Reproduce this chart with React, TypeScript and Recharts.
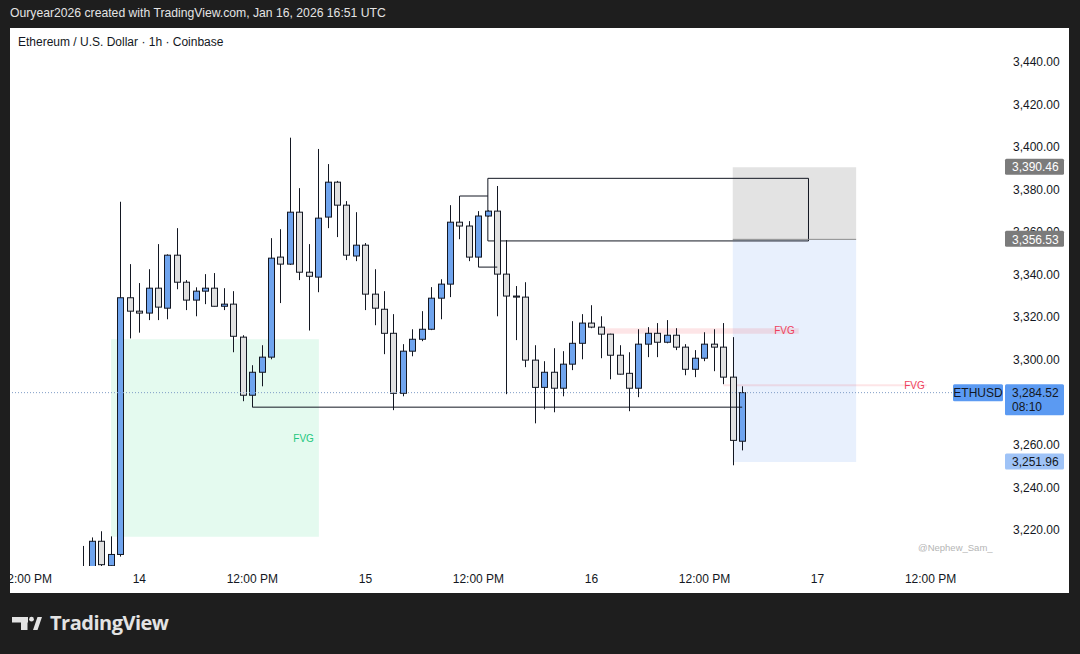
import React from "react";
import {
  ComposedChart,
  Bar,
  XAxis,
  YAxis,
  ReferenceArea,
  ReferenceLine,
} from "recharts";

// ---------- data (hour index relative to Jan 14 00:00 UTC) ----------
const hours = [
  -6, -5, -4, -3, -2, -1, 0, 1, 2, 3, 4, 5, 6, 7, 8, 9, 10, 11, 12, 13, 14, 15,
  16, 17, 18, 19, 20, 21, 22, 23, 24, 25, 26, 27, 28, 29, 30, 31, 32, 33, 34,
  35, 36, 37, 38, 39, 40, 41, 42, 43, 44, 45, 46, 47, 48, 49, 50, 51, 52, 53,
  54, 55, 56, 57, 58, 59, 60, 61, 62, 63, 64,
];
const opens = [
  3196, 3200, 3214.7, 3203.2, 3208.5, 3329.1, 3322.8, 3321.9, 3333.6, 3324.2,
  3349.1, 3336.4, 3328, 3332.2, 3333.6, 3325.1, 3326.1, 3310.6, 3283.3, 3294.1,
  3301.2, 3348.2, 3344.9, 3369.3, 3341.1, 3338.8, 3367, 3383.4, 3372.6, 3348.7,
  3353.8, 3330.8, 3323.7, 3312.4, 3284.2, 3304, 3309.6, 3314.3, 3328.9, 3335.5,
  3364.6, 3362.8, 3348.2, 3367.5, 3369.8, 3340.2, 3329.9, 3329.4, 3299.8, 3287,
  3294.1, 3286.6, 3297.9, 3307.7, 3317.2, 3315.3, 3312, 3302.1, 3293.6, 3286.6,
  3307.3, 3312.4, 3308.2, 3311.5, 3305.9, 3295.5, 3300.7, 3307.3, 3305.9,
  3291.8, 3261.7,
];
const highs = [
  3212.5, 3216.5, 3219.4, 3217, 3374.2, 3344.9, 3336, 3342.5, 3354.3, 3349.5,
  3361.8, 3337.4, 3334, 3340.2, 3340.7, 3333.6, 3332.2, 3311.5, 3297.4, 3306.8,
  3357.1, 3361.3, 3404.3, 3380.6, 3354.3, 3399, 3391.9, 3384, 3374.5, 3369.3,
  3354.8, 3342.5, 3332.2, 3321.4, 3307.3, 3314.3, 3322.8, 3334.1, 3337.8,
  3372.6, 3376.9, 3365.1, 3369.8, 3370.2, 3381.6, 3356.2, 3334.6, 3336.4,
  3306.8, 3299.3, 3305.4, 3304, 3318.1, 3321.4, 3325.6, 3320.4, 3312.2, 3306.8,
  3303.5, 3314.3, 3315.3, 3317.2, 3318.6, 3314.8, 3307.3, 3304.5, 3312.9,
  3314.3, 3317.2, 3310.6, 3287.5,
];
const lows = [
  3188, 3197, 3201.5, 3202.5, 3207.5, 3310, 3312.7, 3318.6, 3318.6, 3319,
  3333.1, 3323.3, 3320.4, 3326.1, 3325, 3323.3, 3303.5, 3280.5, 3277.7, 3287.5,
  3300.2, 3326.6, 3344.5, 3337.4, 3313.7, 3331.7, 3361.8, 3357.6, 3346.8,
  3346.3, 3323.3, 3316.2, 3302.6, 3276.3, 3282.8, 3301.6, 3308.7, 3313.9, 3319,
  3329.4, 3356.6, 3346.3, 3343.5, 3367.2, 3320.4, 3283.8, 3309.2, 3296.5,
  3270.1, 3276.7, 3275.3, 3282.8, 3295.1, 3300.2, 3314.8, 3300.7, 3290.8, 3293,
  3275.8, 3282.4, 3301.2, 3301.2, 3307.7, 3304.5, 3292.7, 3291.8, 3299.3,
  3294.6, 3288.5, 3250.4, 3257.4,
];
const closes = [
  3200, 3214.7, 3203.7, 3208.5, 3329.1, 3322.8, 3321.9, 3333.6, 3324.7, 3349.1,
  3336.4, 3328, 3332.2, 3333.6, 3325.1, 3326.1, 3311, 3283.3, 3294.1, 3301.2,
  3347.7, 3344.9, 3369.3, 3341.1, 3339.2, 3366.5, 3383.4, 3372.6, 3349.1,
  3353.8, 3330.8, 3324.2, 3312.4, 3284.2, 3304, 3309.6, 3314.3, 3328.9, 3335.5,
  3364.6, 3362.8, 3348.2, 3367.5, 3369.8, 3340.2, 3329.9, 3329.4, 3299.8, 3287,
  3294.1, 3286.6, 3297.9, 3307.7, 3317.2, 3315.3, 3312, 3302.1, 3293.2, 3286.6,
  3307.3, 3312.4, 3308.2, 3311.5, 3305.9, 3295.5, 3300.7, 3307.3, 3305.9,
  3291.8, 3262.1, 3284.52,
];

const xTicks = [-12, 0, 12, 24, 36, 48, 60, 72, 84];
const xTickLabels = [
  "12:00 PM", "14", "12:00 PM", "15", "12:00 PM", "16", "12:00 PM", "17", "12:00 PM",
];
const yTicks = [3220, 3240, 3260, 3280, 3300, 3320, 3340, 3360, 3380, 3400, 3420, 3440];

// drawings (hour index / price)
const bullFvg = { x1: -3, x2: 19.06, y1: 3216.8, y2: 3309.6 };
const bearFvg1 = { x1: 49, x2: 70, y1: 3312.2, y2: 3314.8 };
const bearFvg2 = { x1: 62, x2: 83.6, y1: 3287.5, y2: 3288.5 };
const rangeBox = { x1: 37, x2: 71.04, y1: 3355.8, y2: 3385.2 };
const highLine = { x1: 34, x2: 37, y: 3376.9 };
const midLine = { x1: 36, x2: 38, y: 3343.5 };
const lowLine = { x1: 12, x2: 64, y: 3277.7 };
const position = { x1: 63, x2: 76.1, stop: 3390.46, entry: 3356.53, target: 3251.96 };
const lastPrice = 3284.52;
const countdown = "08:10";

const X_DOMAIN: [number, number] = [-13.73, 91.69];
const Y_DOMAIN: [number, number] = [3203.08, 3455.83];

const data = hours.map((h, i) => ({
  h,
  open: opens[i],
  high: highs[i],
  low: lows[i],
  close: closes[i],
}));

const FONT = "'Liberation Sans', Arial, sans-serif";
const INK = "#131722";
const UP = "#6fa4ee";
const DOWN = "#e1e1e1";

const fmtPrice = (v: number) =>
  v.toLocaleString("en-US", { minimumFractionDigits: 2, maximumFractionDigits: 2 });

const Candle = (props: any) => {
  const { x, y, width, height, payload } = props;
  if (!payload || x == null) return null;
  const { open, close, high, low } = payload;
  const top = Math.min(y, y + height);
  const h = Math.abs(height);
  const k = h / (high - low);
  const yOf = (v: number) => top + (high - v) * k;
  const cx = Math.round(x + width / 2) + 0.5;
  const up = close >= open;
  const bt = yOf(Math.max(open, close));
  const bb = yOf(Math.min(open, close));
  const bw = 6;
  return (
    <g>
      <line x1={cx} x2={cx} y1={top} y2={top + h} stroke={INK} strokeWidth={1} />
      <rect
        x={cx - bw / 2}
        y={bt}
        width={bw}
        height={Math.max(bb - bt, 1)}
        fill={up ? UP : DOWN}
        stroke={INK}
        strokeWidth={1}
      />
    </g>
  );
};

const FvgLabel = (props: any) => {
  const { viewBox, color, pad } = props;
  if (!viewBox) return null;
  const { x, y, width, height } = viewBox;
  return (
    <text
      x={x + width - pad}
      y={y + height / 2}
      textAnchor="end"
      dominantBaseline="central"
      fontSize={10}
      fill={color}
      fontFamily={FONT}
    >
      FVG
    </text>
  );
};

const AxisTag = (props: any) => {
  const { viewBox, text, sub, bg, fg, symbol } = props;
  if (!viewBox) return null;
  const vy = viewBox.y + (viewBox.height || 0) / 2;
  const right = viewBox.x + viewBox.width;
  const x0 = right + 2;
  const h = sub ? 31 : 16;
  return (
    <g>
      {symbol && (
        <g>
          <rect x={right - 50} y={vy - 8.5} width={50} height={17} fill={bg} rx={1.5} />
          <text
            x={right - 25}
            y={vy + 4.3}
            textAnchor="middle"
            fontSize={12}
            fill={fg}
            fontFamily={FONT}
          >
            {symbol}
          </text>
        </g>
      )}
      <rect x={x0} y={vy - 8.5} width={59} height={h} fill={bg} rx={1.5} />
      <text x={x0 + 7} y={vy + 4.3} fontSize={12} fill={fg} fontFamily={FONT}>
        {text}
      </text>
      {sub && (
        <text x={x0 + 7} y={vy + 18.5} fontSize={12} fill={fg} fontFamily={FONT}>
          {sub}
        </text>
      )}
    </g>
  );
};

const TvLogo = () => (
  <svg width={40} height={20} style={{ position: "absolute", left: 10, top: 614 }}>
    <rect x={2} y={3} width={16} height={5.5} fill="#e3e3e3" />
    <rect x={11} y={3} width={6.5} height={13} fill="#e3e3e3" />
    <circle cx={21.5} cy={5.2} r={2.4} fill="#e3e3e3" />
    <polygon points="23,16 27.5,3 32,3 27.5,16" fill="#e3e3e3" />
  </svg>
);

const CHART_W = 1059;
const CHART_H = 565;

export default function App() {
  return (
    <div
      style={{
        position: "absolute",
        left: 0,
        top: 0,
        width: 1080,
        height: 654,
        background: "#1e1e1e",
        overflow: "hidden",
        fontFamily: FONT,
      }}
    >
      <div
        style={{
          position: "absolute",
          left: 10,
          top: 6,
          fontSize: 12.2,
          color: "#e4e4e4",
          whiteSpace: "nowrap",
        }}
      >
        Ouryear2026 created with TradingView.com, Jan 16, 2026 16:51 UTC
      </div>
      <div
        style={{
          position: "absolute",
          left: 10,
          top: 28,
          width: CHART_W,
          height: CHART_H,
          background: "#ffffff",
          overflow: "hidden",
        }}
      >
        <div style={{ position: "absolute", left: 0, top: 0 }}>
          <ComposedChart
            width={CHART_W}
            height={CHART_H}
            data={data}
            margin={{ top: 0, right: 0, bottom: 0, left: 0 }}
          >
            <XAxis
              dataKey="h"
              type="number"
              domain={X_DOMAIN}
              allowDataOverflow
              ticks={xTicks}
              interval={0}
              tickFormatter={(v: number) => xTickLabels[xTicks.indexOf(v)] ?? ""}
              tickLine={false}
              axisLine={false}
              height={27}
              tick={{ fontSize: 12, fill: INK, fontFamily: FONT }}
            />
            <YAxis
              orientation="right"
              type="number"
              domain={Y_DOMAIN}
              allowDataOverflow
              ticks={yTicks}
              interval={0}
              tickFormatter={fmtPrice}
              tickLine={false}
              axisLine={false}
              width={66}
              tickMargin={4}
              tick={{ fontSize: 12, fill: INK, fontFamily: FONT }}
            />
            <ReferenceArea
              x1={position.x1}
              x2={position.x2}
              y1={position.entry}
              y2={position.stop}
              fill="#e3e3e3"
              fillOpacity={1}
              stroke="none"
            />
            <ReferenceArea
              x1={position.x1}
              x2={position.x2}
              y1={position.target}
              y2={position.entry}
              fill="#e8f0fd"
              fillOpacity={1}
              stroke="none"
            />
            <ReferenceLine
              y={lastPrice}
              stroke="#7f9dc6"
              strokeDasharray="1 2"
              strokeWidth={1}
            />
            <Bar
              dataKey={(d: any) => [d.low, d.high]}
              barSize={7}
              isAnimationActive={false}
              shape={(p: any) => <Candle {...p} />}
            />
            <ReferenceArea
              x1={bullFvg.x1}
              x2={bullFvg.x2}
              y1={bullFvg.y1}
              y2={bullFvg.y2}
              fill="#0ad46e"
              fillOpacity={0.11}
              stroke="none"
              label={<FvgLabel color="#22c77d" pad={5} />}
            />
            <ReferenceArea
              x1={bearFvg1.x1}
              x2={bearFvg1.x2}
              y1={bearFvg1.y1}
              y2={bearFvg1.y2}
              fill="#f23645"
              fillOpacity={0.13}
              stroke="none"
              label={<FvgLabel color="#ee3f5c" pad={4} />}
            />
            <ReferenceArea
              x1={bearFvg2.x1}
              x2={bearFvg2.x2}
              y1={bearFvg2.y1}
              y2={bearFvg2.y2}
              fill="#f23645"
              fillOpacity={0.13}
              stroke="none"
              label={<FvgLabel color="#ee3f5c" pad={2} />}
            />
            <ReferenceArea
              x1={rangeBox.x1}
              x2={rangeBox.x2}
              y1={rangeBox.y1}
              y2={rangeBox.y2}
              fill="none"
              fillOpacity={0}
              stroke={INK}
              strokeWidth={1}
            />
            <ReferenceLine
              segment={[
                { x: highLine.x1, y: highLine.y },
                { x: highLine.x2, y: highLine.y },
              ]}
              stroke={INK}
              strokeWidth={1}
            />
            <ReferenceLine
              segment={[
                { x: midLine.x1, y: midLine.y },
                { x: midLine.x2, y: midLine.y },
              ]}
              stroke={INK}
              strokeWidth={1}
            />
            <ReferenceLine
              segment={[
                { x: lowLine.x1, y: lowLine.y },
                { x: lowLine.x2, y: lowLine.y },
              ]}
              stroke={INK}
              strokeWidth={1}
            />
            <ReferenceLine
              segment={[
                { x: position.x1, y: position.entry },
                { x: position.x2, y: position.entry },
              ]}
              stroke="#8c8c8c"
              strokeWidth={1}
            />
          </ComposedChart>
        </div>
        {/* overlay chart: price tags drawn above the axis labels */}
        <div style={{ position: "absolute", left: 0, top: 0, pointerEvents: "none" }}>
          <ComposedChart
            width={CHART_W}
            height={CHART_H}
            data={data}
            margin={{ top: 0, right: 0, bottom: 0, left: 0 }}
          >
            <XAxis
              dataKey="h"
              type="number"
              domain={X_DOMAIN}
              allowDataOverflow
              tick={false}
              tickLine={false}
              axisLine={false}
              height={27}
            />
            <YAxis
              orientation="right"
              type="number"
              domain={Y_DOMAIN}
              allowDataOverflow
              tick={false}
              tickLine={false}
              axisLine={false}
              width={66}
            />
            <ReferenceLine
              y={position.stop}
              stroke="none"
              label={<AxisTag text={fmtPrice(position.stop)} bg="#7b7b7b" fg="#ffffff" />}
            />
            <ReferenceLine
              y={position.entry}
              stroke="none"
              label={<AxisTag text={fmtPrice(position.entry)} bg="#7b7b7b" fg="#ffffff" />}
            />
            <ReferenceLine
              y={position.target}
              stroke="none"
              label={<AxisTag text={fmtPrice(position.target)} bg="#9fc3f7" fg={INK} />}
            />
            <ReferenceLine
              y={lastPrice}
              stroke="none"
              label={
                <AxisTag
                  text={fmtPrice(lastPrice)}
                  sub={countdown}
                  symbol="ETHUSD"
                  bg="#5b9af2"
                  fg={INK}
                />
              }
            />
          </ComposedChart>
        </div>
        <div
          style={{
            position: "absolute",
            left: 8,
            top: 7,
            fontSize: 12,
            color: INK,
            whiteSpace: "nowrap",
          }}
        >
          Ethereum / U.S. Dollar · 1h · Coinbase
        </div>
        <div
          style={{
            position: "absolute",
            left: 908,
            top: 514,
            fontSize: 9.5,
            color: "#b5b5b5",
            whiteSpace: "nowrap",
          }}
        >
          @Nephew_Sam_
        </div>
      </div>
      <TvLogo />
      <div
        style={{
          position: "absolute",
          left: 50,
          top: 609,
          fontSize: 20,
          fontWeight: 700,
          color: "#e3e3e3",
          whiteSpace: "nowrap",
          fontFamily: "'Open Sans', 'Noto Sans', sans-serif",
          letterSpacing: -0.5,
        }}
      >
        TradingView
      </div>
    </div>
  );
}
